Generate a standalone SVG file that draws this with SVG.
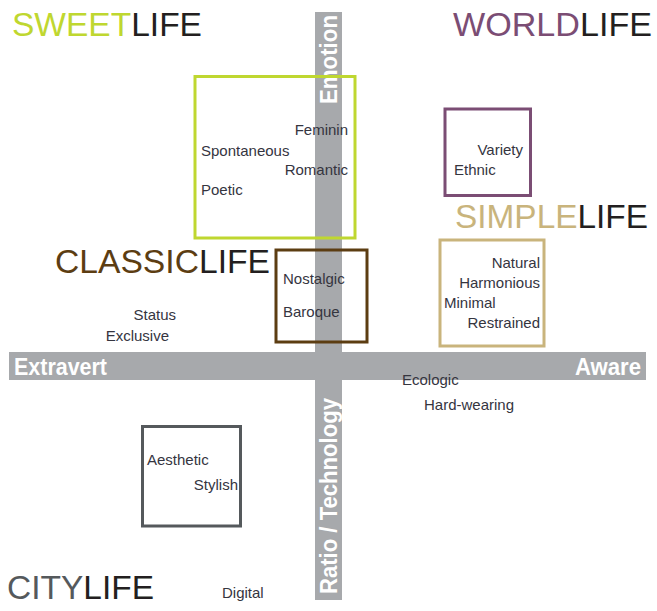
<svg xmlns="http://www.w3.org/2000/svg" width="657" height="611" viewBox="0 0 657 611">
<style>
.t{font-family:"Liberation Sans",Arial,sans-serif;font-size:15px;fill:#35353f}
.h{font-family:"Liberation Sans",Arial,sans-serif;font-size:33px}
.ax{font-family:"Liberation Sans",Arial,sans-serif;font-size:24px;font-weight:bold;fill:#ffffff}
.box{fill:none;stroke-width:3}
.life{fill:#231f20}
</style>
<rect width="657" height="611" fill="#ffffff"/>
<g id="axes">
  <rect x="315" y="12" width="27" height="588" fill="#a7a9ac"/>
  <rect x="9" y="352" width="637" height="28" fill="#a7a9ac"/>
  <text class="ax" x="14" y="375" textLength="93" lengthAdjust="spacingAndGlyphs">Extravert</text>
  <text class="ax" x="641" y="375" text-anchor="end" textLength="66" lengthAdjust="spacingAndGlyphs">Aware</text>
  <text class="ax" transform="translate(337,104) rotate(-90)" textLength="89" lengthAdjust="spacingAndGlyphs">Emotion</text>
  <text class="ax" transform="translate(337,594) rotate(-90)" textLength="196" lengthAdjust="spacingAndGlyphs">Ratio / Technology</text>
</g>
<g id="titles">
  <text class="h" x="12" y="36" textLength="190" lengthAdjust="spacingAndGlyphs"><tspan fill="#bfd730">SWEET</tspan><tspan class="life">LIFE</tspan></text>
  <text class="h" x="453" y="36" textLength="199" lengthAdjust="spacingAndGlyphs"><tspan fill="#7b4d74">WORLD</tspan><tspan class="life">LIFE</tspan></text>
  <text class="h" x="455" y="228" textLength="193" lengthAdjust="spacingAndGlyphs"><tspan fill="#c9b47c">SIMPLE</tspan><tspan class="life">LIFE</tspan></text>
  <text class="h" x="55" y="273" textLength="215" lengthAdjust="spacingAndGlyphs"><tspan fill="#5c3d12">CLASSIC</tspan><tspan class="life">LIFE</tspan></text>
  <text class="h" x="7" y="599" textLength="147" lengthAdjust="spacingAndGlyphs"><tspan fill="#55595c">CITY</tspan><tspan class="life">LIFE</tspan></text>
</g>
<g id="sweet">
  <rect class="box" x="195" y="76.5" width="160" height="161.5" stroke="#bfd730"/>
  <text class="t" x="348" y="135" text-anchor="end">Feminin</text>
  <text class="t" x="201" y="156">Spontaneous</text>
  <text class="t" x="348" y="175" text-anchor="end">Romantic</text>
  <text class="t" x="201" y="195">Poetic</text>
</g>
<g id="world">
  <rect class="box" x="445" y="109" width="85.5" height="86.5" stroke="#7b4d74"/>
  <text class="t" x="523" y="155" text-anchor="end">Variety</text>
  <text class="t" x="454" y="175">Ethnic</text>
</g>
<g id="simple">
  <rect class="box" x="440" y="240" width="104" height="106" stroke="#c9b47c"/>
  <text class="t" x="540" y="268" text-anchor="end">Natural</text>
  <text class="t" x="540" y="288" text-anchor="end">Harmonious</text>
  <text class="t" x="444" y="308">Minimal</text>
  <text class="t" x="540" y="328" text-anchor="end">Restrained</text>
</g>
<g id="classic">
  <rect class="box" x="276" y="250" width="91" height="92" stroke="#5c3d12"/>
  <text class="t" x="283" y="284">Nostalgic</text>
  <text class="t" x="283" y="317">Baroque</text>
</g>
<g id="status">
  <text class="t" x="176" y="320" text-anchor="end">Status</text>
  <text class="t" x="169" y="341" text-anchor="end">Exclusive</text>
</g>
<g id="eco">
  <text class="t" x="402" y="385">Ecologic</text>
  <text class="t" x="424" y="410">Hard-wearing</text>
</g>
<g id="city">
  <rect class="box" x="142.5" y="426.5" width="98" height="99.5" stroke="#55595c"/>
  <text class="t" x="147" y="465">Aesthetic</text>
  <text class="t" x="238" y="490" text-anchor="end">Stylish</text>
</g>
<g id="digital">
  <text class="t" x="222" y="598">Digital</text>
</g>
</svg>
